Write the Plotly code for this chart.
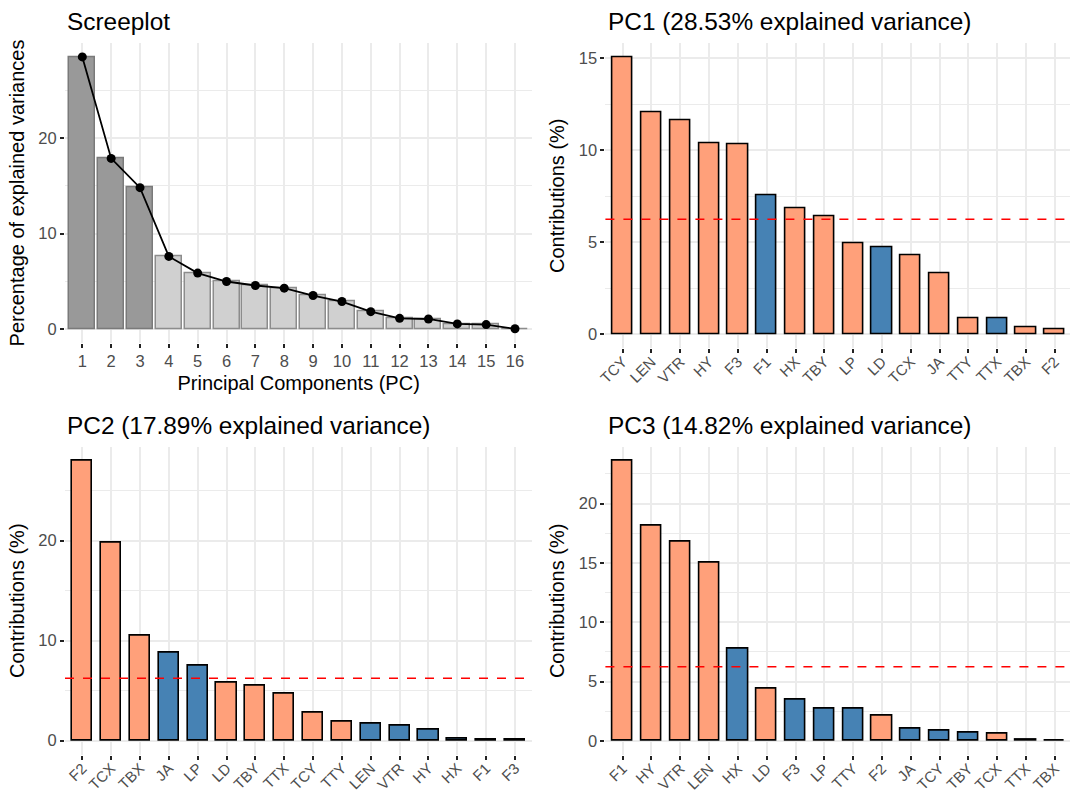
import plotly.graph_objects as go

# ---------------- data ----------------
scree_pc = [str(i) for i in range(1, 17)]
scree_var = [28.53, 17.89, 14.82, 7.61, 5.86, 4.98, 4.56, 4.28, 3.51, 2.88,
             1.82, 1.12, 1.05, 0.53, 0.46, 0.02]
scree_retained = [True, True, True] + [False] * 13

pc1_vars = ["TCY", "LEN", "VTR", "HY", "F3", "F1", "HX", "TBY", "LP", "LD",
            "TCX", "JA", "TTY", "TTX", "TBX", "F2"]
pc1_contrib = [15.05, 12.04, 11.62, 10.40, 10.32, 7.53, 6.86, 6.43, 4.95, 4.72,
               4.29, 3.30, 0.86, 0.85, 0.36, 0.27]
pc1_sign = ["pos", "pos", "pos", "pos", "pos", "neg", "pos", "pos", "pos", "neg",
            "pos", "pos", "pos", "neg", "pos", "pos"]

pc2_vars = ["F2", "TCX", "TBX", "JA", "LP", "LD", "TBY", "TTX", "TCY", "TTY",
            "LEN", "VTR", "HY", "HX", "F1", "F3"]
pc2_contrib = [27.99, 19.77, 10.50, 8.80, 7.46, 5.82, 5.48, 4.68, 2.84, 1.94,
               1.67, 1.54, 1.07, 0.20, 0.10, 0.07]
pc2_sign = ["pos", "pos", "pos", "neg", "neg", "pos", "pos", "pos", "pos", "pos",
            "neg", "neg", "neg", "neg", "pos", "pos"]

pc3_vars = ["F1", "HY", "VTR", "LEN", "HX", "LD", "F3", "LP", "TTY", "F2",
            "JA", "TCY", "TBY", "TCX", "TTX", "TBX"]
pc3_contrib = [23.61, 18.17, 16.76, 14.98, 7.81, 4.37, 3.47, 2.76, 2.74, 2.17,
               1.02, 0.87, 0.71, 0.59, 0.11, 0.03]
pc3_sign = ["pos", "pos", "pos", "pos", "neg", "pos", "neg", "neg", "neg", "pos",
            "neg", "neg", "neg", "pos", "neg", "neg"]

pc_titles = ["PC1 (28.53% explained variance)",
             "PC2 (17.89% explained variance)",
             "PC3 (14.82% explained variance)"]
expected_contrib = 100.0 / 16

# ---------------- style ----------------
FONT = "Liberation Sans, Arial, Helvetica, sans-serif"
GRID = "#ebebeb"
SIGN_COLOR = {"pos": "#FFA07A", "neg": "#4682B4"}
W, H = 1070, 794

fig = go.Figure()

# Screeplot
fig.add_trace(go.Bar(
    x=scree_pc, y=scree_var, width=0.9,
    marker=dict(color=["#999999" if r else "#d0d0d0" for r in scree_retained],
                line=dict(color=["#7a7a7a" if r else "#8c8c8c" for r in scree_retained], width=1.5)),
    xaxis="x", yaxis="y", showlegend=False, hoverinfo="x+y"))
fig.add_trace(go.Scatter(
    x=scree_pc, y=scree_var, mode="lines+markers",
    line=dict(color="black", width=1.8),
    marker=dict(color="black", size=9),
    xaxis="x", yaxis="y", showlegend=False))

panels = [
    (pc1_vars, pc1_contrib, pc1_sign, "x2", "y2"),
    (pc2_vars, pc2_contrib, pc2_sign, "x3", "y3"),
    (pc3_vars, pc3_contrib, pc3_sign, "x4", "y4"),
]
for vars_, contrib, sign, xa, ya in panels:
    fig.add_trace(go.Bar(
        x=vars_, y=contrib, width=0.7,
        marker=dict(color=[SIGN_COLOR[s] for s in sign],
                    line=dict(color="black", width=1.6)),
        xaxis=xa, yaxis=ya, showlegend=False))
    fig.add_shape(type="line", xref=f"{xa} domain", yref=ya,
                  x0=0, x1=1, y0=expected_contrib, y1=expected_contrib,
                  line=dict(color="red", width=1.6, dash="dash"), layer="above")


def xax(domain, rng, angle, size, standoff=0):
    return dict(domain=domain, type="category", range=rng, automargin=False,
                showgrid=True, gridcolor=GRID, gridwidth=1.6,
                zeroline=False, showline=False,
                ticks="outside", ticklen=4, tickwidth=1.8, tickcolor="#222222",
                tickangle=angle, ticklabelstandoff=standoff,
                tickfont=dict(family=FONT, size=size, color="#4d4d4d"),
                fixedrange=True)


def yax(domain, vmax, dtick, title):
    return dict(domain=domain, range=[-0.05 * vmax, 1.05 * vmax], automargin=False,
                tick0=0, dtick=dtick,
                showgrid=True, gridcolor=GRID, gridwidth=1.6,
                minor=dict(tick0=0, dtick=dtick / 2, showgrid=True,
                           gridcolor=GRID, gridwidth=0.9, ticks=""),
                zeroline=False, showline=False,
                ticks="outside", ticklen=4, tickwidth=1.8, tickcolor="#222222",
                tickfont=dict(family=FONT, size=16.5, color="#4d4d4d"),
                title=dict(text=title, font=dict(family=FONT, size=20, color="black"),
                           standoff=8),
                fixedrange=True)


LX = [65 / W, 532.3 / W]
RX = [605.4 / W, 1.0]

fig.update_layout(
    width=W, height=H,
    margin=dict(l=0, r=0, t=0, b=0, autoexpand=False),
    paper_bgcolor="white", plot_bgcolor="white",
    font=dict(family=FONT),
    bargap=0,
    xaxis=dict(xax(LX, [-0.6, 15.6], 0, 16.5), anchor="y",
               title=dict(text="Principal Components (PC)",
                          font=dict(family=FONT, size=20, color="black"), standoff=6)),
    yaxis=dict(yax([(H - 342.6) / H, (H - 43.3) / H], max(scree_var), 10,
                   "Percentage of explained variances"), anchor="x"),
    xaxis2=dict(xax(RX, [-0.6, 15.53], -45, 15, -6), anchor="y2"),
    yaxis2=dict(yax([(H - 348.2) / H, (H - 43.3) / H], max(pc1_contrib), 5,
                    "Contributions (%)"), anchor="x2"),
    xaxis3=dict(xax(LX, [-0.6, 15.6], -45, 15, -6), anchor="y3"),
    yaxis3=dict(yax([(H - 754.7) / H, (H - 446.7) / H], max(pc2_contrib), 10,
                    "Contributions (%)"), anchor="x3"),
    xaxis4=dict(xax(RX, [-0.6, 15.53], -45, 15, -6), anchor="y4"),
    yaxis4=dict(yax([(H - 755.0) / H, (H - 446.7) / H], max(pc3_contrib), 5,
                    "Contributions (%)"), anchor="x4"),
)

titles = [("Screeplot", 65, 21), (pc_titles[0], 606, 21),
          (pc_titles[1], 65, 425), (pc_titles[2], 606, 425)]
for text, px, py in titles:
    fig.add_annotation(text=text, xref="paper", yref="paper",
                       x=px / W, y=(H - py) / H, xanchor="left", yanchor="middle",
                       showarrow=False,
                       font=dict(family=FONT, size=24.4, color="black"))

fig.write_html(
    "out.html",
    config={"displayModeBar": False},
    post_script="document.body.style.margin='0px';document.body.style.overflow='hidden';",
)
